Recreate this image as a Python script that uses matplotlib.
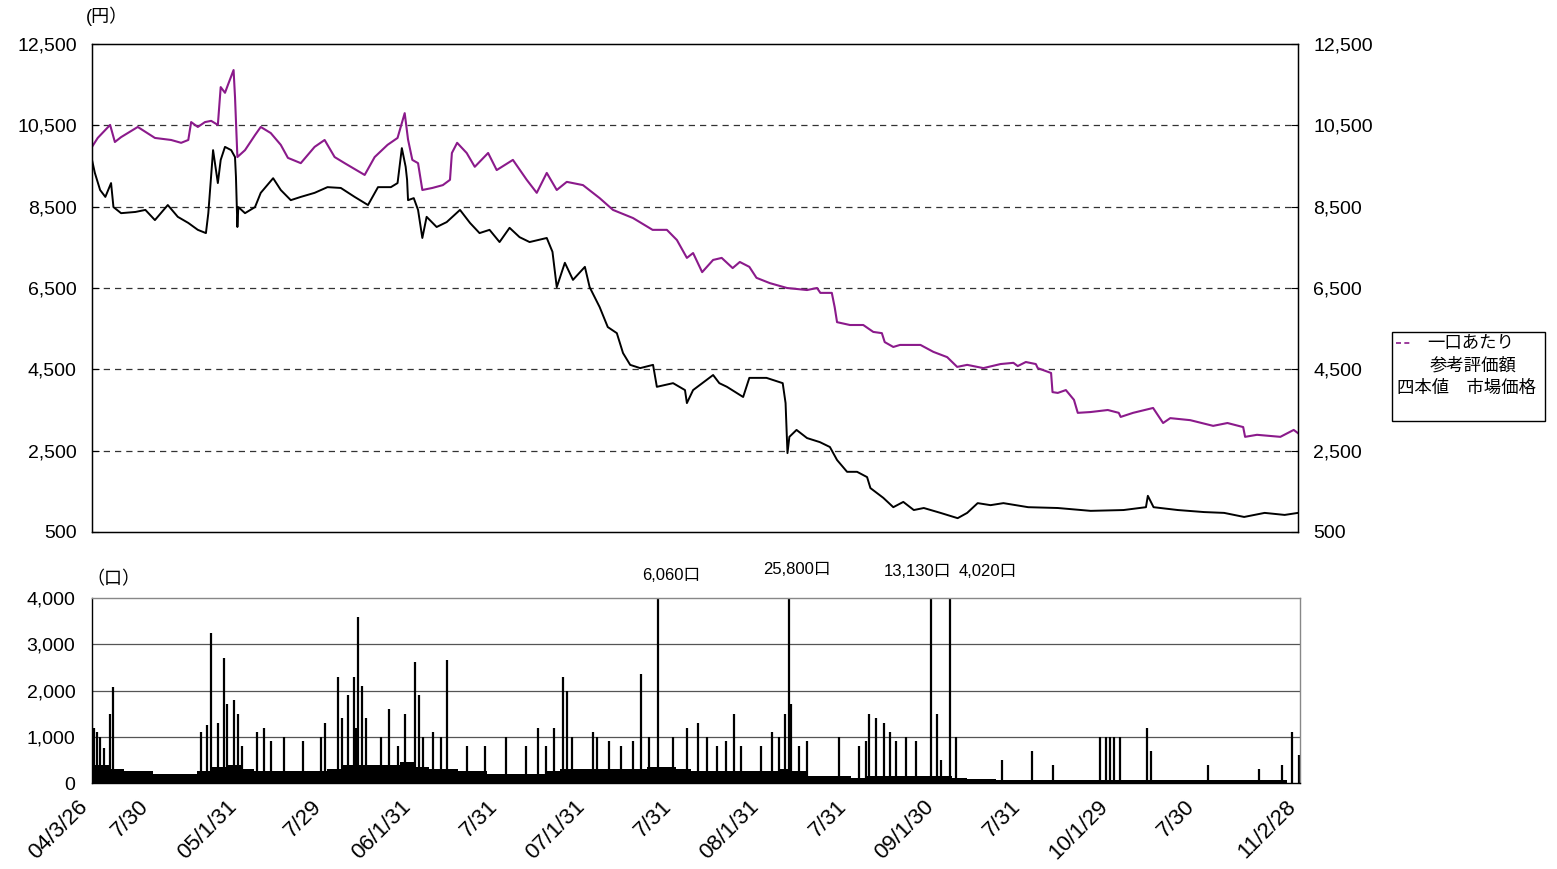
import pandas as pd
import matplotlib
matplotlib.use("Agg")
import matplotlib.pyplot as plt
from matplotlib.patches import Rectangle
from matplotlib.lines import Line2D
from matplotlib.transforms import ScaledTranslation

plt.rcParams['font.family'] = ['Liberation Sans', 'Noto Sans CJK JP']

# ============================================================
# データ
# ============================================================

# 一口あたり参考評価額
ref_dates = [
    "2004-03-26", "2004-04-07", "2004-05-03", "2004-05-13", "2004-05-26", "2004-06-30",
    "2004-08-05", "2004-09-08", "2004-09-29", "2004-10-14", "2004-10-20", "2004-11-03",
    "2004-11-18", "2004-12-01", "2004-12-15", "2004-12-21", "2004-12-30", "2005-01-05",
    "2005-01-17", "2005-01-20", "2005-01-25", "2005-02-10", "2005-03-03", "2005-03-15",
    "2005-04-05", "2005-04-26", "2005-05-11", "2005-06-07", "2005-07-06", "2005-07-27",
    "2005-08-17", "2005-09-07", "2005-10-19", "2005-11-09", "2005-12-06", "2005-12-27",
    "2006-01-11", "2006-01-18", "2006-01-27", "2006-02-08", "2006-02-17", "2006-03-10",
    "2006-04-01", "2006-04-16", "2006-04-20", "2006-05-01", "2006-05-21", "2006-06-07",
    "2006-07-05", "2006-07-23", "2006-08-26", "2006-09-24", "2006-10-15", "2006-11-05",
    "2006-11-26", "2006-12-17", "2007-01-20", "2007-02-24", "2007-03-24", "2007-05-05",
    "2007-06-15", "2007-07-15", "2007-08-05", "2007-08-26", "2007-09-08", "2007-09-27",
    "2007-10-20", "2007-11-07", "2007-11-30", "2007-12-15", "2008-01-04", "2008-01-19",
    "2008-02-16", "2008-03-23", "2008-05-04", "2008-05-25", "2008-06-01", "2008-06-25",
    "2008-07-01", "2008-07-06", "2008-08-02", "2008-08-30", "2008-09-20", "2008-10-08",
    "2008-10-14", "2008-11-01", "2008-11-15", "2008-12-28", "2009-01-24", "2009-02-22",
    "2009-03-15", "2009-04-05", "2009-05-09", "2009-06-14", "2009-07-11", "2009-07-20",
    "2009-08-06", "2009-08-27", "2009-08-31", "2009-09-28", "2009-10-01", "2009-10-12",
    "2009-10-29", "2009-11-15", "2009-11-23", "2009-12-20", "2010-01-25", "2010-02-17",
    "2010-02-21", "2010-03-19", "2010-04-30", "2010-05-21", "2010-06-05", "2010-07-17",
    "2010-09-03", "2010-10-03", "2010-11-05", "2010-11-09", "2010-12-04", "2011-01-22",
    "2011-02-19", "2011-02-28",
]
ref_values = [
    9970, 10190, 10510, 10090, 10210, 10460,
    10190, 10140, 10070, 10140, 10580, 10460,
    10580, 10610, 10510, 11440, 11300, 11490,
    11860, 11200, 9720, 9890, 10260, 10460,
    10310, 10020, 9700, 9570, 9970, 10140,
    9720, 9570, 9280, 9720, 10020, 10190,
    10800, 10150, 9650, 9570, 8910, 8960,
    9030, 9160, 9820, 10070, 9820, 9480,
    9820, 9400, 9650, 9160, 8840, 9330,
    8910, 9110, 9030, 8710, 8420, 8220,
    7930, 7930, 7680, 7240, 7360, 6890,
    7190, 7240, 6990, 7140, 7020, 6750,
    6620, 6500, 6450, 6500, 6380, 6380,
    6030, 5660, 5590, 5590, 5420, 5390,
    5170, 5050, 5100, 5100, 4930, 4800,
    4560, 4610, 4530, 4630, 4660, 4580,
    4680, 4630, 4530, 4410, 3940, 3920,
    3990, 3750, 3430, 3450, 3500, 3430,
    3330, 3430, 3550, 3180, 3300, 3250,
    3110, 3180, 3080, 2840, 2890, 2840,
    3010, 2930,
]

# 四本値 市場価格（終値ベースの目安）
mkt_dates = [
    "2004-03-26", "2004-04-01", "2004-04-12", "2004-04-23", "2004-05-05", "2004-05-10",
    "2004-05-26", "2004-06-25", "2004-07-16", "2004-08-05", "2004-09-01", "2004-09-22",
    "2004-10-14", "2004-11-03", "2004-11-20", "2004-11-25", "2004-12-05", "2004-12-15",
    "2004-12-21", "2004-12-30", "2005-01-12", "2005-01-20", "2005-01-22", "2005-01-25",
    "2005-01-27", "2005-02-10", "2005-03-03", "2005-03-15", "2005-04-10", "2005-04-26",
    "2005-05-17", "2005-06-07", "2005-07-06", "2005-08-02", "2005-08-30", "2005-09-28",
    "2005-10-26", "2005-11-16", "2005-12-13", "2005-12-27", "2006-01-05", "2006-01-13",
    "2006-01-16", "2006-01-18", "2006-01-30", "2006-02-08", "2006-02-17", "2006-02-26",
    "2006-03-19", "2006-04-09", "2006-05-07", "2006-05-28", "2006-06-17", "2006-07-08",
    "2006-07-29", "2006-08-19", "2006-09-09", "2006-09-30", "2006-11-05", "2006-11-17",
    "2006-11-26", "2006-12-13", "2006-12-30", "2007-01-24", "2007-02-03", "2007-02-24",
    "2007-03-13", "2007-04-01", "2007-04-14", "2007-04-29", "2007-05-20", "2007-06-16",
    "2007-06-24", "2007-07-28", "2007-08-22", "2007-08-26", "2007-09-08", "2007-10-20",
    "2007-11-02", "2007-11-18", "2007-12-22", "2008-01-04", "2008-02-09", "2008-03-14",
    "2008-03-20", "2008-03-24", "2008-03-28", "2008-04-12", "2008-05-04", "2008-05-31",
    "2008-06-21", "2008-07-06", "2008-07-27", "2008-08-17", "2008-09-07", "2008-09-14",
    "2008-10-11", "2008-11-01", "2008-11-22", "2008-12-14", "2009-01-04", "2009-02-08",
    "2009-03-16", "2009-04-05", "2009-04-27", "2009-05-24", "2009-06-20", "2009-08-11",
    "2009-10-12", "2009-12-20", "2010-02-27", "2010-04-15", "2010-04-19", "2010-05-01",
    "2010-06-21", "2010-08-15", "2010-09-26", "2010-11-07", "2010-12-20", "2011-01-31",
    "2011-02-28",
]
mkt_values = [
    9650, 9330, 8910, 8740, 9080, 8490,
    8340, 8370, 8420, 8170, 8540, 8250,
    8100, 7930, 7850, 8340, 9890, 9080,
    9650, 9970, 9890, 9720, 9230, 8000,
    8490, 8340, 8490, 8840, 9200, 8910,
    8660, 8740, 8840, 8980, 8960, 8740,
    8540, 8980, 8980, 9080, 9940, 9480,
    9160, 8660, 8710, 8420, 7730, 8250,
    8000, 8120, 8420, 8100, 7850, 7930,
    7630, 7980, 7750, 7630, 7730, 7390,
    6520, 7120, 6700, 7020, 6520, 6030,
    5540, 5390, 4900, 4610, 4530, 4610,
    4070, 4160, 3990, 3670, 3990, 4360,
    4160, 4070, 3820, 4290, 4290, 4160,
    3670, 2440, 2840, 3010, 2810, 2710,
    2590, 2270, 1980, 1980, 1850, 1580,
    1340, 1110, 1240, 1040, 1090, 970,
    840, 970, 1210, 1160, 1210, 1110,
    1090, 1020, 1040, 1110, 1390, 1110,
    1040, 990, 970, 870, 970, 920,
    970,
]

# 出来高（口）: 目立つ棒
vol_dates = [
    "2004-03-26", "2004-03-31", "2004-04-05", "2004-04-12", "2004-04-20", "2004-05-03",
    "2004-05-10", "2004-11-10", "2004-11-22", "2004-12-01", "2004-12-14", "2004-12-27",
    "2005-01-03", "2005-01-17", "2005-01-25", "2005-02-03", "2005-03-07", "2005-03-21",
    "2005-04-04", "2005-05-03", "2005-06-10", "2005-07-18", "2005-07-26", "2005-08-24",
    "2005-09-01", "2005-09-13", "2005-09-26", "2005-09-30", "2005-10-04", "2005-10-12",
    "2005-10-20", "2005-11-21", "2005-12-09", "2005-12-26", "2006-01-11", "2006-02-01",
    "2006-02-08", "2006-02-17", "2006-03-10", "2006-03-27", "2006-04-09", "2006-05-21",
    "2006-06-28", "2006-08-10", "2006-09-20", "2006-10-16", "2006-11-02", "2006-11-19",
    "2006-12-08", "2006-12-16", "2006-12-27", "2007-02-08", "2007-02-17", "2007-03-13",
    "2007-04-08", "2007-05-03", "2007-05-20", "2007-06-06", "2007-06-24", "2007-07-25",
    "2007-08-24", "2007-09-16", "2007-10-04", "2007-10-25", "2007-11-13", "2007-11-30",
    "2007-12-15", "2008-01-26", "2008-02-19", "2008-03-04", "2008-03-17", "2008-03-24",
    "2008-03-30", "2008-04-14", "2008-05-01", "2008-07-08", "2008-08-19", "2008-09-01",
    "2008-09-09", "2008-09-22", "2008-10-09", "2008-10-22", "2008-11-03", "2008-11-24",
    "2008-12-15", "2009-01-16", "2009-01-29", "2009-02-06", "2009-02-26", "2009-03-10",
    "2009-06-14", "2009-08-16", "2009-09-28", "2010-01-05", "2010-01-18", "2010-01-27",
    "2010-02-04", "2010-02-17", "2010-04-13", "2010-04-22", "2010-08-19", "2010-12-04",
    "2011-01-22", "2011-02-12", "2011-02-25",
]
vol_values = [
    2450, 1200, 1100, 1000, 750, 1500,
    2080, 1100, 1250, 3250, 1300, 2700,
    1700, 1800, 1500, 800, 1100, 1200,
    900, 1000, 900, 1000, 1300, 2300,
    1400, 1900, 2300, 1200, 3580, 2100,
    1400, 1000, 1600, 800, 1500, 2620,
    1900, 1000, 1100, 1000, 2670, 800,
    800, 1000, 800, 1200, 800, 1200,
    2300, 2000, 1000, 1100, 1000, 900,
    800, 900, 2350, 1000, 6060, 1000,
    1200, 1300, 1000, 800, 900, 1500,
    800, 800, 1100, 1000, 1500, 25800,
    1700, 800, 900, 1000, 800, 900,
    1500, 1400, 1300, 1100, 900, 1000,
    900, 13130, 1500, 500, 4020, 1000,
    500, 700, 400, 1000, 1000, 1000,
    1000, 1000, 1200, 700, 400, 300,
    400, 1100, 600,
]

# 出来高の底（日々の細かい棒の目安、月ごと）
base_dates = pd.date_range("2004-03-01", "2011-02-01", freq="MS").strftime("%Y-%m-%d").tolist()
base_values = [
    400, 400, 300, 250, 250, 200, 200, 200, 250, 350,
    400, 300, 250, 250, 250, 250, 250, 300, 400, 400, 400, 400,
    450, 350, 300, 300, 250, 250, 200, 200, 200, 200, 250, 300,
    300, 300, 300, 300, 300, 350, 350, 300, 250, 250, 250, 250,
    250, 250, 300, 250, 150, 150, 150, 100, 150, 150, 150, 150,
    150, 150, 100, 80, 80, 70, 70, 60, 60, 60, 60, 60,
    60, 60, 60, 60, 60, 60, 60, 60, 60, 60, 60, 60,
    60, 60,
]

tick_dates = ["2004-03-26", "2004-07-30", "2005-01-31", "2005-07-29", "2006-01-31",
              "2006-07-31", "2007-01-31", "2007-07-31", "2008-01-31", "2008-07-31",
              "2009-01-30", "2009-07-31", "2010-01-29", "2010-07-30", "2011-02-28"]
tick_labels = ["04/3/26", "7/30", "05/1/31", "7/29", "06/1/31", "7/31", "07/1/31",
               "7/31", "08/1/31", "7/31", "09/1/30", "7/31", "10/1/29", "7/30", "11/2/28"]

# ============================================================
# 描画
# ============================================================

W, H = 1557, 869
fig = plt.figure(figsize=(W / 100, H / 100), dpi=100)

def box(x0, y0, x1, y1):
    # ピクセル座標 → figure 比率
    return [x0 / W, 1 - y1 / H, (x1 - x0) / W, (y1 - y0) / H]

xmin = pd.Timestamp("2004-03-26")
xmax = pd.Timestamp("2011-02-28")
purple = "#8B1A8B"

# ---- 上段：価格 ----
ax = fig.add_axes(box(92, 44, 1298, 532))
ax.plot(pd.to_datetime(ref_dates), ref_values, color=purple, lw=1.5)
ax.plot(pd.to_datetime(mkt_dates), mkt_values, color="black", lw=1.4)
ax.set_xlim(xmin, xmax)
ax.set_ylim(500, 12500)
yt = [500, 2500, 4500, 6500, 8500, 10500, 12500]
ax.set_yticks(yt)
ax.set_yticklabels([f"{v:,}" for v in yt], fontsize=14)
for v in yt[1:-1]:
    ax.axhline(v, color="#333333", lw=0.9, ls=(0, (5, 4)), zorder=0)
ax.set_xticks([])
ax.tick_params(axis="y", direction="in", length=5, pad=11)
for s in ax.spines.values():
    s.set_color("black")
    s.set_linewidth(1.0)

axr = ax.twinx()
axr.set_ylim(500, 12500)
axr.set_yticks(yt)
axr.set_yticklabels([f"{v:,}" for v in yt], fontsize=14)
axr.tick_params(axis="y", direction="in", length=5, pad=11)

fig.text(86 / W, 1 - 16 / H, "(円）", fontsize=13, va="center", ha="left")

# ---- 下段：出来高 ----
ax2 = fig.add_axes(box(92, 598, 1300, 783))
ax2.fill_between(pd.to_datetime(base_dates), base_values, step="post", color="black", lw=0)
ax2.vlines(pd.to_datetime(vol_dates), 0, vol_values, color="black", lw=1.6)
ax2.set_xlim(xmin, xmax)
ax2.set_ylim(0, 4000)
vt = [0, 1000, 2000, 3000, 4000]
ax2.set_yticks(vt)
ax2.set_yticklabels([f"{v:,}" for v in vt], fontsize=14)
for v in vt[1:-1]:
    ax2.axhline(v, color="#555555", lw=0.9, zorder=0)
ax2.tick_params(axis="y", direction="in", length=0, pad=12)
ax2.set_xticks(pd.to_datetime(tick_dates))
ax2.set_xticklabels(tick_labels, rotation=45, ha="right", va="center",
                    rotation_mode="anchor", fontsize=16)
ax2.tick_params(axis="x", length=0, pad=16)
# ラベルを少し左上へ
shift = ScaledTranslation(-7 / 100, 2 / 100, fig.dpi_scale_trans)
for lab in ax2.get_xticklabels():
    lab.set_transform(lab.get_transform() + shift)
for name, s in ax2.spines.items():
    s.set_color("black" if name in ("left", "bottom") else "#888888")
    s.set_linewidth(1.0)

fig.text(86 / W, 1 - 580 / H, "（口）", fontsize=13, va="center", ha="left")

# 枠外の出来高の注記
over = [(671, 575, "6,060口"), (797, 569, "25,800口"),
        (917, 571, "13,130口"), (988, 572, "4,020口")]
for tx, ty, txt in over:
    fig.text(tx / W, 1 - ty / H, txt, fontsize=12, ha="center", va="center")

# ---- 凡例 ----
fig.patches.append(Rectangle((1392 / W, 1 - 421 / H), 153 / W, 89 / H,
                             transform=fig.transFigure, fill=False,
                             edgecolor="black", lw=1.0))
fig.lines.append(Line2D([1396 / W, 1412 / W], [1 - 343 / H, 1 - 343 / H],
                        transform=fig.transFigure, color=purple, lw=1.2,
                        ls=(0, (3, 2))))
fig.text(1427 / W, 1 - 343 / H, "一口あたり", fontsize=12.5, va="center", ha="left")
fig.text(1430 / W, 1 - 365 / H, "参考評価額", fontsize=12.5, va="center", ha="left")
fig.text(1397 / W, 1 - 388 / H, "四本値　市場価格", fontsize=12.5, va="center", ha="left")

fig.savefig("out.png", dpi=100)
